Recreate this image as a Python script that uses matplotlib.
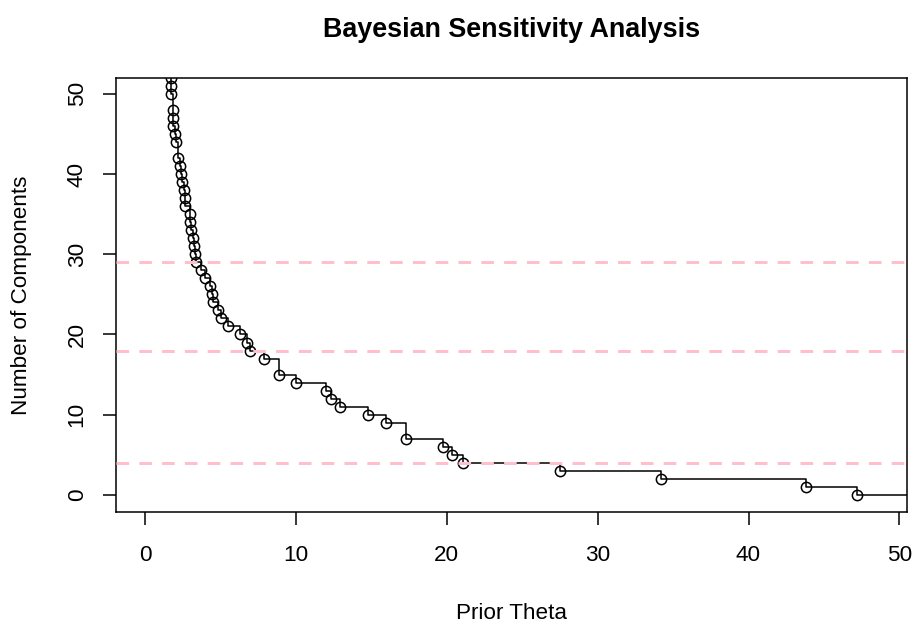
import matplotlib
matplotlib.use("Agg")
import matplotlib.pyplot as plt

# Data (prior theta vs number of components)
theta = [1.72, 1.75, 1.75, 1.75, 1.84, 1.88, 1.88, 2.01, 2.06, 2.19, 2.33, 2.37,
         2.46, 2.59, 2.64, 2.68, 2.99, 3.00, 3.08, 3.17, 3.26, 3.30, 3.39, 3.74,
         3.97, 4.28, 4.41, 4.54, 4.81, 5.07, 5.52, 6.27, 6.76, 6.93, 7.91, 8.91,
         10.02, 12.01, 12.35, 12.90, 14.78, 15.94, 17.29, 19.73, 20.35, 21.10,
         27.48, 34.18, 43.82, 47.21, 60.0]
components = [54, 52, 51, 50, 48, 47, 46, 45, 44, 42, 41, 40,
              39, 38, 37, 36, 35, 34, 33, 32, 31, 30, 29, 28,
              27, 26, 25, 24, 23, 22, 21, 20, 19, 18, 17, 15,
              14, 13, 12, 11, 10, 9, 7, 6, 5, 4,
              3, 2, 1, 0, 0]
ref_levels = [29, 18, 4]
x_ticks = [0, 10, 20, 30, 40, 50]
y_ticks = [0, 10, 20, 30, 40, 50]

plt.rcParams['font.family'] = ['Liberation Sans', 'DejaVu Sans']

W, H = 917, 626
fig = plt.figure(figsize=(W / 100, H / 100), dpi=100)
L, R, T, B = 116, 906.7, 78.3, 511.7
ax = fig.add_axes([L / W, 1 - B / H, (R - L) / W, (B - T) / H])

ax.plot(theta, components, drawstyle='steps-post', color='black', lw=1.1, zorder=2)
ax.plot(theta, components, linestyle='none', marker='o', markersize=7.4,
        markerfacecolor='none', markeredgecolor='black', markeredgewidth=1.1, zorder=3)
for lv in ref_levels:
    ln = ax.axhline(lv, color='#FFC0CB', lw=2.16, zorder=4, solid_capstyle='butt')
    ln.set_dashes((4.2, 3.4))
    ln.set_dash_capstyle('butt')

ax.set_xlim(-1.92, 50.48)
ax.set_ylim(-2.08, 51.92)
ax.set_xticks(x_ticks)
ax.set_yticks(y_ticks)
ax.tick_params(axis='both', direction='out', length=9.4, width=1.1, labelsize=16.2,
               color='black')
ax.tick_params(axis='x', pad=14.5)
ax.tick_params(axis='y', pad=11)
for lab in ax.get_yticklabels():
    lab.set_rotation(90)
    lab.set_va('center')
for sp in ax.spines.values():
    sp.set_linewidth(1.1)

ax.set_xlabel('Prior Theta', fontsize=16.2, labelpad=27)
ax.set_ylabel('Number of Components', fontsize=16.2, labelpad=25)
fig.text((L + R) / 2 / W, 1 - 36.7 / H, 'Bayesian Sensitivity Analysis',
         ha='center', va='baseline', fontsize=19.4, fontweight='bold')

fig.savefig('out.png', dpi=100)
